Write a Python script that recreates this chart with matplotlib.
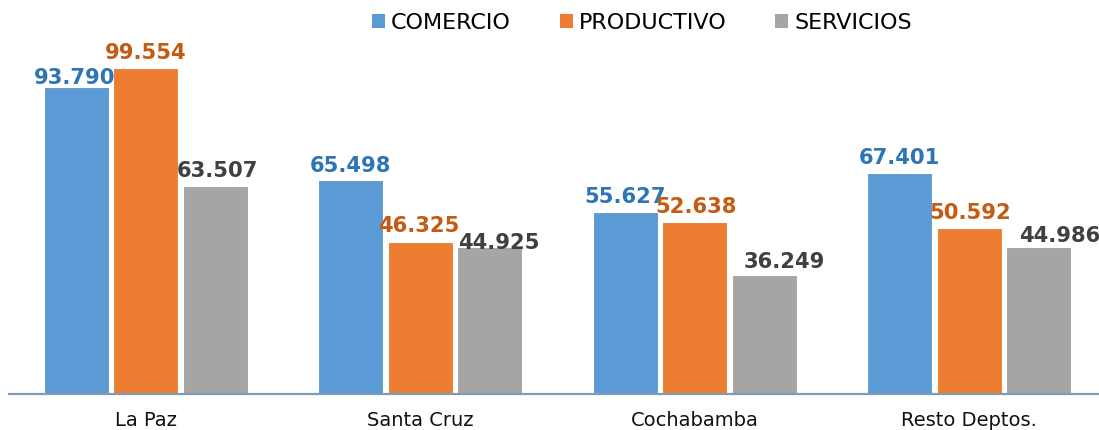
import matplotlib
matplotlib.use("Agg")
import matplotlib.pyplot as plt
import numpy as np

# ---- data ----
categories = ["La Paz", "Santa Cruz", "Cochabamba", "Resto Deptos."]
series_names = ["COMERCIO", "PRODUCTIVO", "SERVICIOS"]
comercio = [93.790, 65.498, 55.627, 67.401]
productivo = [99.554, 46.325, 52.638, 50.592]
servicios = [63.507, 44.925, 36.249, 44.986]

# ---- style ----
bar_colors = ["#5B9BD5", "#ED7D31", "#A5A5A5"]
label_colors = ["#2E75B6", "#C55A11", "#404040"]
# label nudges in pixels (dx, baseline gap above bar top) per series, per category
label_nudges = [
    [(-2, 3), (0, 8), (0, 9), (0, 9)],
    [(0, 9), (-2, 10), (1, 9), (1, 9)],
    [(2, 9), (9, -2), (20, 7), (21, 5)],
]

W, H = 1099, 430
fig = plt.figure(figsize=(W / 100, H / 100), dpi=100)
plt.rcParams['font.family'] = ['DejaVu Sans']

ax_left, ax_bottom = 8.5, 36
ax_w, ax_h = 1098, 364
ax = fig.add_axes([ax_left / W, ax_bottom / H, ax_w / W, ax_h / H])

x = np.arange(len(categories))
pitch = 0.253
width = 0.237
all_series = [comercio, productivo, servicios]
handles = []
for i, (vals, name) in enumerate(zip(all_series, series_names)):
    xs = x + (i - 1) * pitch
    b = ax.bar(xs, vals, width=width, color=bar_colors[i], edgecolor="white",
               linewidth=0.8, label=name, zorder=2)
    handles.append(b)
    for j, (xx, v) in enumerate(zip(xs, vals)):
        dx, dy = label_nudges[i][j]
        txt = f"{v:.3f}"
        ax.annotate(txt, (xx, v), xytext=(dx, dy), textcoords="offset pixels",
                    ha="center", va="baseline", fontsize=15.2, fontweight="bold",
                    color=label_colors[i], zorder=4, annotation_clip=False)

ax.set_xlim(-0.5, 3.5)
ax.set_ylim(0, 111.15)
ax.set_xticks(x)
ax.set_xticklabels(categories, fontsize=14, color="#111111")
ax.tick_params(axis="x", length=0, pad=12)
ax.set_yticks([])
for s in ["top", "right", "left"]:
    ax.spines[s].set_visible(False)
ax.spines["bottom"].set_color("#7F9BB8")
ax.spines["bottom"].set_linewidth(1.6)
ax.spines["bottom"].set_zorder(3)

leg = fig.legend(handles=handles, labels=series_names, loc="center",
                 bbox_to_anchor=(0.584, 0.947), ncol=3, frameon=False,
                 fontsize=16, handlelength=0.58, handleheight=0.55,
                 handletextpad=0.27, columnspacing=2.2, borderpad=0)
for h in leg.legend_handles:
    h.set_edgecolor("none")

fig.savefig("out.png", dpi=100)
